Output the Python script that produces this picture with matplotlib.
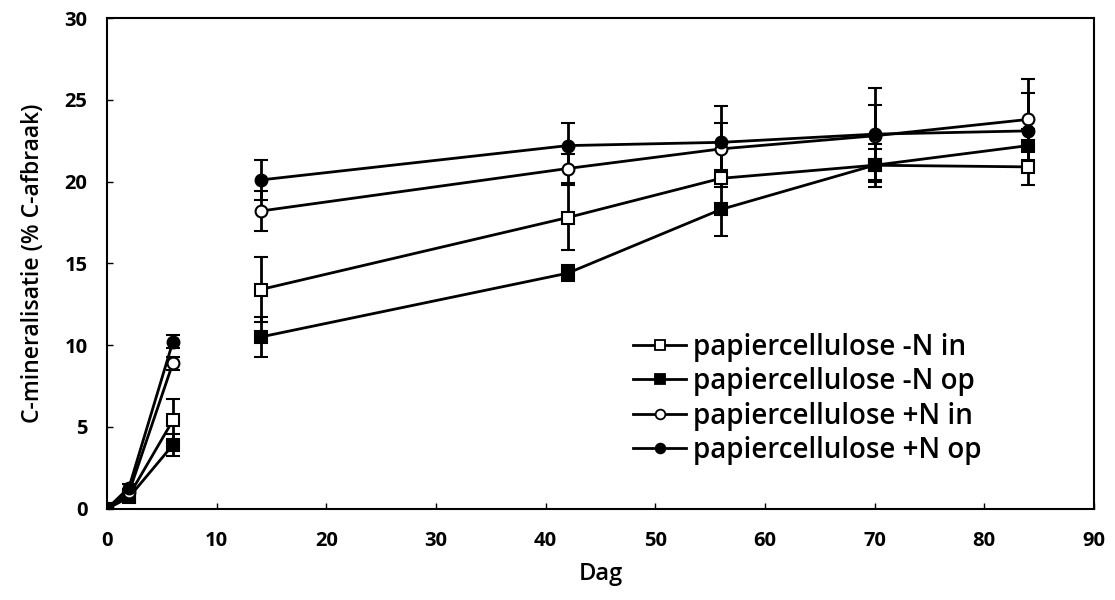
import numpy as np
import matplotlib.pyplot as plt
from matplotlib.lines import Line2D

plt.rcParams['font.family'] = ['Open Sans', 'DejaVu Sans']

dagen = [0, 2, 6, 14, 42, 56, 70, 84]

labels = ['papiercellulose -N in', 'papiercellulose -N op',
          'papiercellulose +N in', 'papiercellulose +N op']

min_n_in = [0.0, 0.8, 5.4, 13.4, 17.8, 20.2, 21.0, 20.9]
min_n_in_err = [0.0, 0.2, 1.3, 2.0, 2.0, 0.5, 1.0, 1.1]

min_n_op = [0.0, 0.7, 3.9, 10.5, 14.4, 18.3, 21.0, 22.2]
min_n_op_err = [0.0, 0.2, 0.7, 1.2, 0.5, 1.6, 1.3, 1.0]

plus_n_in = [0.0, 1.0, 8.9, 18.2, 20.8, 22.0, 22.8, 23.8]
plus_n_in_err = [0.0, 0.2, 0.4, 1.2, 0.9, 1.6, 1.9, 2.5]

plus_n_op = [0.0, 1.3, 10.2, 20.1, 22.2, 22.4, 22.9, 23.1]
plus_n_op_err = [0.0, 0.2, 0.4, 1.2, 1.4, 2.2, 2.8, 2.3]

series = [
    (min_n_in, min_n_in_err, 's', 'white'),
    (min_n_op, min_n_op_err, 's', 'black'),
    (plus_n_in, plus_n_in_err, 'o', 'white'),
    (plus_n_op, plus_n_op_err, 'o', 'black'),
]

fig = plt.figure(figsize=(11.15, 6), dpi=100)
ax = fig.add_axes([0.096, 0.152, 0.885, 0.818])

x = np.array(dagen)
# the measurements break between day 6 and day 14
parts = [slice(0, 3), slice(3, None)]
handles = []
for y, err, m, fc in series:
    y = np.array(y)
    err = np.array(err)
    for p in parts:
        ax.errorbar(x[p], y[p], yerr=err[p], color='black', marker=m,
                    markersize=8.5, markerfacecolor=fc, markeredgecolor='black',
                    markeredgewidth=1.5, linewidth=2, elinewidth=2,
                    capsize=5, capthick=2)
    handles.append(Line2D([], [], color='black', marker=m, markersize=7,
                          markerfacecolor=fc, markeredgecolor='black',
                          markeredgewidth=1.3, linewidth=2))

ax.set_xlim(0, 90)
ax.set_ylim(0, 30)
ax.set_xticks(range(0, 91, 10))
ax.set_yticks(range(0, 31, 5))
ax.tick_params(direction='in', length=4, width=1, labelsize=14.5)
ax.tick_params(axis='x', pad=16)
ax.tick_params(axis='y', pad=14)
for t in ax.get_xticklabels() + ax.get_yticklabels():
    t.set_fontweight('bold')
for s in ax.spines.values():
    s.set_linewidth(1.5)

ax.set_xlabel('Dag', fontsize=17, fontweight='semibold', labelpad=8)
ax.set_ylabel('C-mineralisatie (% C-afbraak)', fontsize=16.5,
              fontweight='semibold', labelpad=14)

ax.legend(handles, labels, loc='center left', bbox_to_anchor=(0.508, 0.224),
          frameon=False, handlelength=1.9, handletextpad=0.25,
          labelspacing=0.2, prop={'size': 20, 'weight': 'semibold'})

fig.savefig('out.png', dpi=100)
